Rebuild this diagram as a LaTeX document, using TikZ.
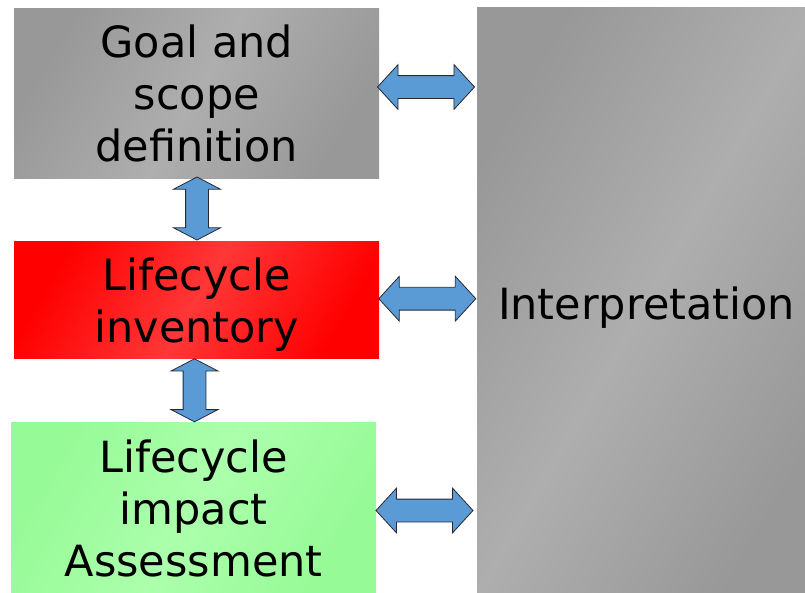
\documentclass[tikz,border=0pt]{standalone}
\usepackage{fontspec}
\setmainfont{DejaVu Sans}
\usetikzlibrary{shapes.arrows,calc}
\definecolor{grayD}{RGB}{152,152,152}
\definecolor{grayL}{RGB}{174,174,174}
\definecolor{redD}{RGB}{255,0,0}
\definecolor{redL}{RGB}{255,55,55}
\definecolor{greenD}{RGB}{150,250,150}
\definecolor{greenL}{RGB}{172,255,172}
\definecolor{arrowblue}{RGB}{91,155,213}
\definecolor{arrowline}{RGB}{40,40,50}
\begin{document}
\begin{tikzpicture}[x=1pt,y=-1pt,
  box/.style={rectangle, anchor=north west, inner sep=0pt, draw=none},
  graybox/.style={box, left color=grayD, right color=grayD, middle color=grayL, shading angle=60},
  redbox/.style={box, left color=redD, right color=redD, middle color=redL, shading angle=60},
  greenbox/.style={box, left color=greenD, right color=greenD, middle color=greenL, shading angle=60},
  lbl/.style={align=center, inner sep=0pt, font=\fontsize{43}{52}\selectfont},
  harrow/.style={double arrow, draw=arrowline, fill=arrowblue, line width=0.8pt,
    inner xsep=0pt, inner ysep=11pt, minimum height=97pt, minimum width=44pt,
    double arrow head extend=11pt, double arrow tip angle=95},
  varrow/.style={double arrow, draw=arrowline, fill=arrowblue, line width=0.8pt,
    inner xsep=0pt, inner ysep=11pt, minimum height=63pt, minimum width=46pt,
    double arrow head extend=12pt, double arrow tip angle=125, rotate=90}
]
\useasboundingbox (0,0) rectangle (805,592);
\fill[white] (0,0) rectangle (805,592);
% boxes
\node[graybox, minimum width=365pt, minimum height=170pt] (goal) at (14,8) {};
\node[redbox, minimum width=365pt, minimum height=117pt] (inv) at (14,241) {};
\node[greenbox, minimum width=365pt, minimum height=170pt] (lcia) at (11,422) {};
\node[graybox, minimum width=340pt, minimum height=585pt] (interp) at (477,7) {};
% labels
\node[lbl] (tgoal) at ($(goal.center)+(0,0)$) {Goal and\\scope\\definition};
\node[lbl] (tinv) at ($(inv.center)+(0,5)$) {Lifecycle\\inventory};
\node[lbl] (tlcia) at ($(lcia.center)+(0,1)$) {Lifecycle\\impact\\Assessment};
\node[lbl] (tinterp) at (646.5,308) {Interpretation};
% double arrows
\node[harrow] (a1) at (426,87) {};
\node[harrow] (a2) at (427.3,298.7) {};
\node[harrow] (a3) at (424.5,510.5) {};
\node[varrow] (v1) at (197,208.5) {};
\node[varrow] (v2) at (194.5,390.3) {};
\end{tikzpicture}
\end{document}
